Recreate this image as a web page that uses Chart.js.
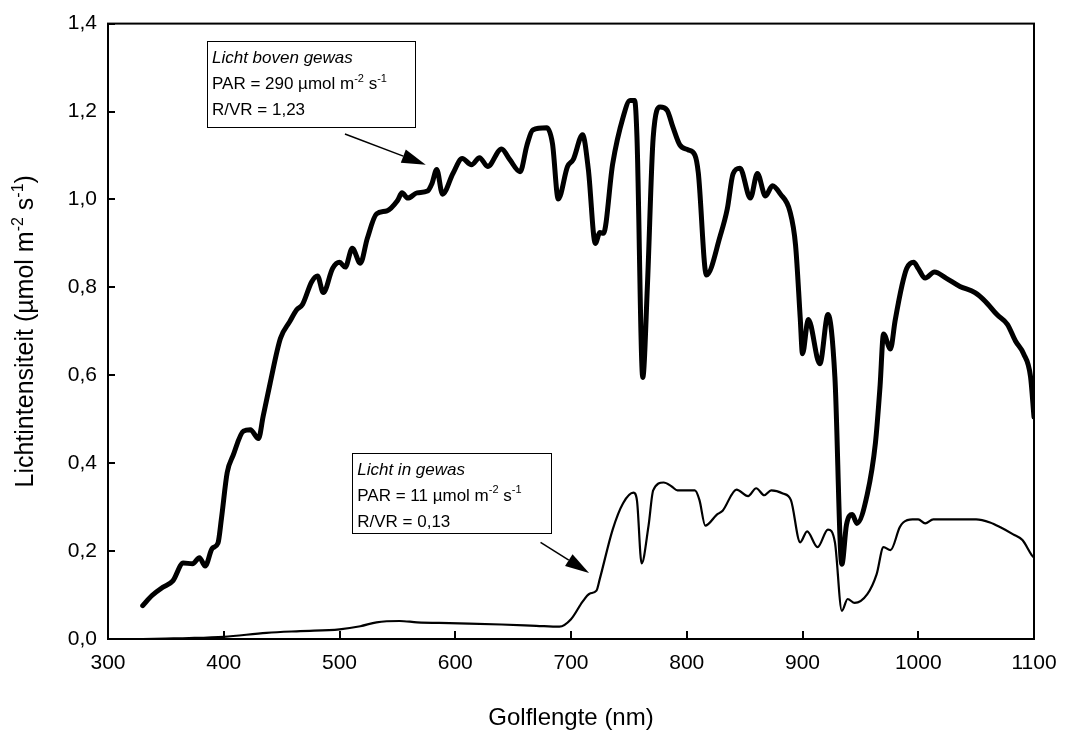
<!DOCTYPE html>
<html>
<head>
<meta charset="utf-8">
<title>Lichtintensiteit</title>
<script src="https://cdn.jsdelivr.net/npm/chart.js@4.4.0/dist/chart.umd.min.js"></script>
<style>
    html, body { margin: 0; padding: 0; background: #fff; }
    canvas { display: block; }
</style>
</head>
<body>
<canvas id="spectrumChart" width="1073" height="737"></canvas>
<script>
// Licht boven gewas (dikke lijn)
const bovenNm = [330, 338, 347, 356, 365, 373, 379, 384, 390, 395, 398, 403, 408, 417, 423, 430, 434, 440, 449, 457,
    463, 468, 476, 481, 486, 494, 500, 505, 511, 518, 524, 532, 541, 550, 554, 559, 567, 576, 580, 584,
    589, 598, 606, 614, 621, 628, 640, 647, 656, 662, 667, 679, 684, 689, 697, 702, 710, 715, 721, 725,
    728, 736, 745, 751, 755, 757, 762, 766, 771, 777, 783, 788, 794, 801, 807, 810, 817, 829, 835, 840,
    846, 855, 861, 868, 874, 881, 889, 894, 898, 900, 905, 915, 922, 928, 934, 938, 943, 947, 956, 963,
    967, 970, 976, 980, 986, 990, 996, 1000, 1006, 1014, 1024, 1036, 1049, 1058, 1068, 1077, 1084, 1091, 1097, 1100];
const bovenWaarden = [0.076, 0.099, 0.117, 0.132, 0.173, 0.171, 0.185, 0.166, 0.206, 0.218, 0.274, 0.379, 0.417, 0.473, 0.476, 0.456, 0.506, 0.581, 0.684, 0.722,
    0.749, 0.761, 0.813, 0.826, 0.788, 0.843, 0.857, 0.846, 0.889, 0.855, 0.911, 0.967, 0.974, 0.997, 1.015, 1.003, 1.015, 1.019, 1.037, 1.068,
    1.012, 1.059, 1.093, 1.079, 1.095, 1.075, 1.115, 1.091, 1.063, 1.124, 1.158, 1.163, 1.127, 1.001, 1.075, 1.091, 1.147, 1.068, 0.900, 0.925,
    0.923, 1.081, 1.187, 1.225, 1.225, 1.141, 0.595, 0.803, 1.141, 1.210, 1.203, 1.165, 1.124, 1.113, 1.101, 1.060, 0.828, 0.918, 0.978, 1.058,
    1.071, 1.003, 1.059, 1.008, 1.031, 1.012, 0.974, 0.896, 0.732, 0.649, 0.727, 0.626, 0.738, 0.595, 0.170, 0.260, 0.283, 0.263, 0.330, 0.446,
    0.575, 0.694, 0.660, 0.724, 0.805, 0.843, 0.857, 0.843, 0.821, 0.835, 0.821, 0.802, 0.788, 0.768, 0.738, 0.716, 0.678, 0.649, 0.597, 0.505];

// Licht in gewas (dunne lijn)
const inNm = [330, 350, 370, 400, 437, 466, 500, 518, 532, 552, 567, 595, 640, 670, 690, 700, 710, 716, 722, 725,
    736, 745, 754, 757, 761, 767, 771, 780, 787, 792, 807, 811, 816, 826, 831, 843, 853, 860, 867, 873,
    883, 890, 898, 904, 913, 922, 928, 934, 939, 945, 956, 964, 970, 976, 984, 987, 995, 1000, 1006, 1013,
    1027, 1050, 1062, 1071, 1082, 1090, 1098, 1100];
const inWaarden = [0.000, 0.001, 0.002, 0.005, 0.014, 0.018, 0.022, 0.029, 0.038, 0.041, 0.038, 0.036, 0.033, 0.030, 0.028, 0.045, 0.085, 0.103, 0.110, 0.138,
    0.249, 0.309, 0.333, 0.315, 0.172, 0.258, 0.338, 0.356, 0.347, 0.338, 0.338, 0.316, 0.258, 0.283, 0.292, 0.340, 0.325, 0.343, 0.327, 0.338,
    0.331, 0.316, 0.220, 0.245, 0.209, 0.249, 0.220, 0.064, 0.091, 0.082, 0.102, 0.147, 0.209, 0.202, 0.254, 0.265, 0.272, 0.272, 0.263, 0.272,
    0.272, 0.272, 0.265, 0.254, 0.238, 0.225, 0.191, 0.185];

const xTicks = [300, 400, 500, 600, 700, 800, 900, 1000, 1100];
const yTicks = [0, 0.2, 0.4, 0.6, 0.8, 1.0, 1.2, 1.4];

const FONT = '"Liberation Sans", Arial, Helvetica, sans-serif';

// tekstregels van de twee kaders; sup = superscript
const notitieBoven = [
    [{ t: 'Licht boven gewas', italic: true }],
    [{ t: 'PAR = 290 µmol m' }, { t: '-2', sup: true }, { t: ' s' }, { t: '-1', sup: true }],
    [{ t: 'R/VR = 1,23' }]
];
const notitieIn = [
    [{ t: 'Licht in gewas', italic: true }],
    [{ t: 'PAR = 11 µmol m' }, { t: '-2', sup: true }, { t: ' s' }, { t: '-1', sup: true }],
    [{ t: 'R/VR = 0,13' }]
];
const yTitel = [{ t: 'Lichtintensiteit (µmol m' }, { t: '-2', sup: true }, { t: ' s' }, { t: '-1', sup: true }, { t: ')' }];

function toPoints(xs, ys) {
    return xs.map((x, i) => ({ x: x, y: ys[i] }));
}

function drawRich(ctx, parts, x, y, size) {
    parts.forEach(p => {
        const s = p.sup ? Math.round(size * 0.62) : size;
        ctx.font = (p.italic ? 'italic ' : '') + s + 'px ' + FONT;
        ctx.fillText(p.t, x, p.sup ? y - size * 0.42 : y);
        x += ctx.measureText(p.t).width;
    });
    return x;
}

function richWidth(ctx, parts, size) {
    let w = 0;
    parts.forEach(p => {
        const s = p.sup ? Math.round(size * 0.62) : size;
        ctx.font = (p.italic ? 'italic ' : '') + s + 'px ' + FONT;
        w += ctx.measureText(p.t).width;
    });
    return w;
}

function drawArrow(ctx, x1, y1, x2, y2) {
    const ang = Math.atan2(y2 - y1, x2 - x1);
    const len = 24, half = 7;
    const bx = x2 - len * Math.cos(ang), by = y2 - len * Math.sin(ang);
    ctx.lineWidth = 1.5;
    ctx.beginPath();
    ctx.moveTo(x1, y1);
    ctx.lineTo(bx, by);
    ctx.stroke();
    ctx.beginPath();
    ctx.moveTo(x2, y2);
    ctx.lineTo(bx + half * Math.sin(ang), by - half * Math.cos(ang));
    ctx.lineTo(bx - half * Math.sin(ang), by + half * Math.cos(ang));
    ctx.closePath();
    ctx.fill();
}

function drawNote(chart, lines, box, arrow) {
    const { ctx, scales } = chart;
    const left = scales.x.getPixelForValue(box[0]);
    const top = scales.y.getPixelForValue(box[1]);
    const right = scales.x.getPixelForValue(box[2]);
    const bottom = scales.y.getPixelForValue(box[3]);
    ctx.fillStyle = '#fff';
    ctx.fillRect(left, top, right - left, bottom - top);
    ctx.strokeStyle = '#000';
    ctx.lineWidth = 1;
    ctx.strokeRect(Math.round(left) + 0.5, Math.round(top) + 0.5, Math.round(right - left), Math.round(bottom - top));
    ctx.fillStyle = '#000';
    ctx.textAlign = 'left';
    ctx.textBaseline = 'alphabetic';
    lines.forEach((parts, i) => {
        drawRich(ctx, parts, left + 5, top + 22 + i * 26, 17);
    });
    ctx.strokeStyle = '#000';
    drawArrow(ctx,
        scales.x.getPixelForValue(arrow[0]), scales.y.getPixelForValue(arrow[1]),
        scales.x.getPixelForValue(arrow[2]), scales.y.getPixelForValue(arrow[3]));
}

const kaderPlugin = {
    id: 'kaderPlugin',
    afterDatasetsDraw(chart) {
        const { ctx, chartArea, scales } = chart;
        ctx.save();

        // rand om het plotgebied
        ctx.strokeStyle = '#000';
        ctx.lineWidth = 2;
        ctx.strokeRect(chartArea.left, chartArea.top, chartArea.width, chartArea.height);

        // tickjes naar binnen
        ctx.lineWidth = 2;
        xTicks.forEach(v => {
            const px = Math.round(scales.x.getPixelForValue(v));
            ctx.beginPath();
            ctx.moveTo(px, chartArea.bottom);
            ctx.lineTo(px, chartArea.bottom - 8);
            ctx.stroke();
        });
        yTicks.forEach(v => {
            const py = Math.round(scales.y.getPixelForValue(v));
            ctx.beginPath();
            ctx.moveTo(chartArea.left, py);
            ctx.lineTo(chartArea.left + 7, py);
            ctx.stroke();
        });

        // kaders met pijlen
        drawNote(chart, notitieBoven, [385.5, 1.36, 565.5, 1.164], [504.7, 1.149, 574.5, 1.079]);
        drawNote(chart, notitieIn, [511, 0.424, 683, 0.242], [673.7, 0.22, 715.6, 0.15]);

        // astitels
        ctx.fillStyle = '#000';
        ctx.textAlign = 'center';
        ctx.textBaseline = 'middle';
        ctx.font = '24px ' + FONT;
        ctx.fillText('Golflengte (nm)', (chartArea.left + chartArea.right) / 2, 718);

        ctx.save();
        ctx.translate(24, (chartArea.top + chartArea.bottom) / 2);
        ctx.rotate(-Math.PI / 2);
        ctx.textAlign = 'left';
        ctx.textBaseline = 'alphabetic';
        const w = richWidth(ctx, yTitel, 25);
        drawRich(ctx, yTitel, -w / 2, 9, 25);
        ctx.restore();

        ctx.restore();
    }
};

function initializeSpectrumChart() {
    const ctx = document.getElementById('spectrumChart').getContext('2d');
    new Chart(ctx, {
        type: 'line',
        data: {
            datasets: [{
                label: 'Licht boven gewas',
                data: toPoints(bovenNm, bovenWaarden),
                borderColor: '#000',
                borderWidth: 5,
                pointRadius: 0,
                cubicInterpolationMode: 'monotone',
                borderJoinStyle: 'round',
                borderCapStyle: 'round'
            }, {
                label: 'Licht in gewas',
                data: toPoints(inNm, inWaarden),
                borderColor: '#000',
                borderWidth: 2.2,
                pointRadius: 0,
                cubicInterpolationMode: 'monotone',
                borderJoinStyle: 'round'
            }]
        },
        options: {
            responsive: false,
            animation: false,
            layout: {
                padding: { top: 8, right: 39, left: 0, bottom: 0 }
            },
            plugins: {
                legend: { display: false },
                tooltip: { enabled: false }
            },
            scales: {
                x: {
                    type: 'linear',
                    min: 300,
                    max: 1100,
                    afterBuildTicks: function(scale) {
                        scale.ticks = xTicks.map(v => ({ value: v }));
                    },
                    afterFit: function(scale) {
                        scale.height = 98;
                    },
                    grid: { display: false, drawTicks: false },
                    border: { display: false },
                    ticks: {
                        color: '#000',
                        padding: 12,
                        maxRotation: 0,
                        font: { family: FONT, size: 21 },
                        callback: function(value) {
                            return String(value);
                        }
                    }
                },
                y: {
                    type: 'linear',
                    min: 0,
                    max: 1.4,
                    afterBuildTicks: function(scale) {
                        scale.ticks = yTicks.map(v => ({ value: v }));
                    },
                    afterFit: function(scale) {
                        scale.width = 108;
                    },
                    grid: { display: false, drawTicks: false },
                    border: { display: false },
                    ticks: {
                        color: '#000',
                        padding: 11,
                        font: { family: FONT, size: 21 },
                        callback: function(value) {
                            return value.toFixed(1).replace('.', ',');
                        }
                    }
                }
            }
        },
        plugins: [kaderPlugin]
    });
}

document.addEventListener('DOMContentLoaded', function() {
    initializeSpectrumChart();
});
</script>
</body>
</html>
